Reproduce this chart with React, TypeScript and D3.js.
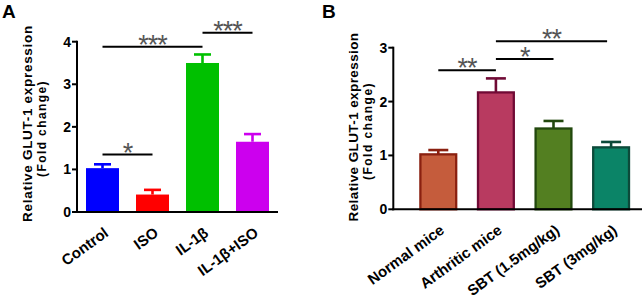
import React from "react";
import * as d3 from "d3";

const catsA = ["Control", "ISO", "IL-1β", "IL-1β+ISO"];
const meanA = [1.03, 0.41, 3.5, 1.65];
const errA = [0.09, 0.11, 0.2, 0.18];
const colorsA = ["#0000ff", "#ff0000", "#00c000", "#cc00ee"];
const ticksA = [0, 1, 2, 3, 4];
const sigA = [
  { from: 0, to: 1, y: 1.35, label: "*" },
  { from: 0, to: 2, y: 3.88, label: "***" },
  { from: 2, to: 3, y: 4.21, label: "***" },
];

const catsB = ["Normal mice", "Arthritic mice", "SBT (1.5mg/kg)", "SBT (3mg/kg)"];
const meanB = [1.02, 2.17, 1.5, 1.15];
const errB = [0.08, 0.26, 0.14, 0.1];
const fillB = ["#c55c3c", "#b83a60", "#537f21", "#0b8467"];
const strokeB = ["#8a2010", "#700a35", "#22480e", "#0c4a3a"];
const ticksB = [0, 1, 2, 3];
const sigB = [
  { from: 0, to: 1, y: 2.58, label: "**" },
  { from: 1, to: 2, y: 2.79, label: "*" },
  { from: 1, to: 3, y: 3.12, label: "**" },
];

const FONT = "'Liberation Sans', Arial, sans-serif";

type PanelProps = {
  letter: string;
  letterX: number;
  cats: string[];
  mean: number[];
  err: number[];
  fill: string[];
  stroke: string[] | null;
  ticks: number[];
  sig: { from: number; to: number; y: number; label: string }[];
  yMax: number;
  yRange: [number, number];
  xRange: [number, number];
  axisX: number;
  axisEnd: number;
  label1: [number, number, number];
  label2: [number, number, number];
  sigEndTrim?: number;
};

function Panel(p: PanelProps) {
  const y = d3.scaleLinear().domain([0, p.yMax]).range(p.yRange);
  const x = d3
    .scaleBand<string>()
    .domain(p.cats)
    .range(p.xRange)
    .paddingInner(0.34)
    .paddingOuter(0.17);
  const bw = x.bandwidth();
  const cx = (c: string) => (x(c) as number) + bw / 2;
  const y0 = y(0);
  return (
    <g>
      <text x={p.letterX} y={18} fontFamily={FONT} fontWeight="bold" fontSize={19}>
        {p.letter}
      </text>
      {p.cats.map((c, i) => {
        const sc = p.stroke ? p.stroke[i] : p.fill[i];
        const top = y(p.mean[i]);
        const et = y(p.mean[i] + p.err[i]);
        const capW = p.stroke ? 20 : 17;
        return (
          <g key={c}>
            <line x1={cx(c)} x2={cx(c)} y1={top} y2={et} stroke={sc} strokeWidth={2.6} />
            <line x1={cx(c) - capW / 2} x2={cx(c) + capW / 2} y1={et} y2={et} stroke={sc} strokeWidth={2.6} />
            {p.stroke ? (
              <rect
                x={(x(c) as number) + 1.1}
                y={top}
                width={bw - 2.2}
                height={y0 - top}
                fill={p.fill[i]}
                stroke={sc}
                strokeWidth={2.3}
              />
            ) : (
              <rect x={x(c) as number} y={top} width={bw} height={y0 - top} fill={p.fill[i]} />
            )}
          </g>
        );
      })}
      <line x1={p.axisX} x2={p.axisX} y1={p.yRange[1] - 1} y2={y0 + 1} stroke="#000" strokeWidth={2} />
      <line x1={p.axisX - 1} x2={p.axisEnd} y1={y0} y2={y0} stroke="#000" strokeWidth={2} />
      {p.ticks.map((t) => (
        <g key={t}>
          <line x1={p.axisX - 5} x2={p.axisX} y1={y(t)} y2={y(t)} stroke="#000" strokeWidth={2} />
          <text
            x={p.axisX - 6}
            y={y(t)}
            dy="0.36em"
            textAnchor="end"
            fontFamily={FONT}
            fontWeight="bold"
            fontSize={14}
          >
            {t}
          </text>
        </g>
      ))}
      <text
        transform={`translate(${p.label1[0]},${p.label1[1]}) rotate(-90)`}
        textAnchor="middle"
        dy="0.36em"
        fontFamily={FONT}
        fontWeight="bold"
        fontSize={13.5}
        letterSpacing={p.label1[2]}
      >
        Relative GLUT-1 expression
      </text>
      <text
        transform={`translate(${p.label2[0]},${p.label2[1]}) rotate(-90)`}
        textAnchor="middle"
        dy="0.36em"
        fontFamily={FONT}
        fontWeight="bold"
        fontSize={12}
        letterSpacing={p.label2[2]}
      >
        (Fold change)
      </text>
      {p.cats.map((c) => (
        <g key={c} transform={`translate(${cx(c) + 7},${y0 + 23})`}>
          <text
            transform="rotate(-36)"
            textAnchor="end"
            fontFamily={FONT}
            fontWeight="bold"
            fontSize={15}
          >
            {c}
          </text>
        </g>
      ))}
      {p.sig.map((s, i) => {
        const x1 = cx(p.cats[s.from]);
        const x2 = cx(p.cats[s.to]) - (i === 2 && p.sigEndTrim ? p.sigEndTrim : 0);
        const yy = y(s.y);
        return (
          <g key={i}>
            <line x1={x1} x2={x2} y1={yy} y2={yy} stroke="#000" strokeWidth={2} />
            <text
              x={(x1 + x2) / 2}
              y={yy + 7}
              textAnchor="middle"
              fontFamily={FONT}
              fontSize={27}
              fill="#555"
              letterSpacing={-1}
            >
              {s.label}
            </text>
          </g>
        );
      })}
    </g>
  );
}

export default function App() {
  return (
    <svg width={643} height={303} style={{ position: "absolute", left: 0, top: 0, background: "#fff" }}>
      <rect width={643} height={303} fill="#fff" />
      <Panel
        letter="A"
        letterX={2}
        cats={catsA}
        mean={meanA}
        err={errA}
        fill={colorsA}
        stroke={null}
        ticks={ticksA}
        sig={sigA}
        yMax={4}
        yRange={[212, 41.7]}
        xRange={[77.5, 277.5]}
        axisX={77}
        axisEnd={278}
        label1={[27, 123.5, 0.7]}
        label2={[41.7, 128.5, 1.4]}
      />
      <Panel
        letter="B"
        letterX={322}
        cats={catsB}
        mean={meanB}
        err={errB}
        fill={fillB}
        stroke={strokeB}
        ticks={ticksB}
        sig={sigB}
        yMax={3}
        yRange={[209.3, 47.7]}
        xRange={[409.5, 639.9]}
        axisX={393.3}
        axisEnd={642}
        label1={[353, 127, 0.4]}
        label2={[368, 131, 1.5]}
        sigEndTrim={4}
      />
    </svg>
  );
}
